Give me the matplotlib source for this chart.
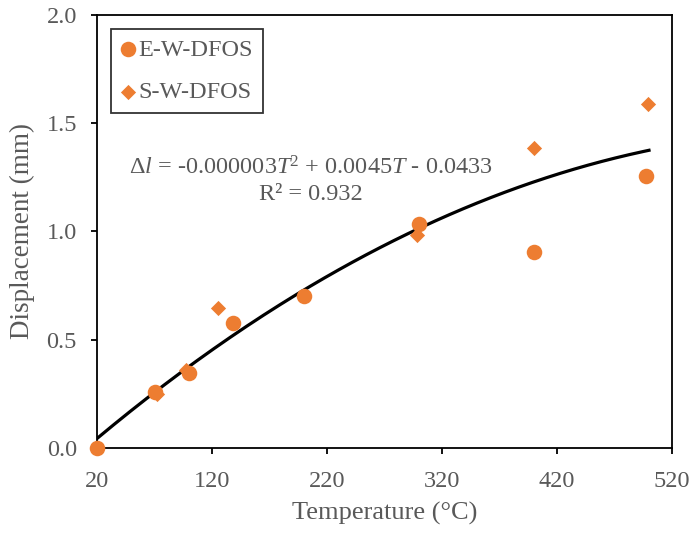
import numpy as np
import matplotlib
matplotlib.use("Agg")
import matplotlib.pyplot as plt

# Données
temp_ew = [20, 70, 100, 138, 200, 300, 400, 497]
disp_ew = [0.0, 0.26, 0.345, 0.577, 0.703, 1.035, 0.905, 1.255]

temp_sw = [20, 72, 97, 125, 298, 400, 499]
disp_sw = [0.0, 0.25, 0.36, 0.648, 0.985, 1.388, 1.588]

x_ticks = [20, 120, 220, 320, 420, 520]
y_ticks = [0.0, 0.5, 1.0, 1.5, 2.0]

ORANGE = "#ED7D31"
GRIS = "#595959"

plt.rcParams["font.family"] = ["Liberation Serif", "DejaVu Serif"]
plt.rcParams["mathtext.fontset"] = "custom"
plt.rcParams["mathtext.it"] = "Liberation Serif:italic"
plt.rcParams["mathtext.rm"] = "Liberation Serif"

fig = plt.figure(figsize=(6.91, 5.36), dpi=100)
ax = fig.add_axes([0.1404, 0.1642, 0.8321, 0.8078])

# Courbe de tendance polynomiale d'ordre 2
tous_t = np.array(temp_ew + temp_sw)
tous_d = np.array(disp_ew + disp_sw)
coef = np.polyfit(tous_t, tous_d, 2)
t_fit = np.linspace(20, 500, 200)
ax.plot(t_fit, np.polyval(coef, t_fit), color="black", lw=2.3, zorder=2)

ax.scatter(temp_sw, disp_sw, marker="D", s=60, color=ORANGE, label="S-W-DFOS",
           zorder=3, linewidths=0, clip_on=False)
ax.scatter(temp_ew, disp_ew, marker="o", s=125, color=ORANGE, label="E-W-DFOS",
           zorder=4, linewidths=0, clip_on=False)

ax.set_xlim(20, 520)
ax.set_ylim(0, 2.0)
ax.set_xticks(x_ticks)
ax.set_yticks(y_ticks)
ax.set_yticklabels([f"{v:.1f}" for v in y_ticks])

for s in ax.spines.values():
    s.set_linewidth(1.3)
    s.set_color("black")
ax.tick_params(direction="out", length=4.5, width=1.3, colors="black",
               labelcolor=GRIS, labelsize=17.5)
ax.tick_params(axis="x", pad=12)
ax.tick_params(axis="y", pad=10)

ax.set_xlabel("Temperature (°C)", fontsize=19, color=GRIS, labelpad=7)
ax.set_ylabel("Displacement (mm)", fontsize=19.5, color=GRIS, labelpad=8)

ax.text(206, 1.293, r"$\Delta$$\it{l}$ = -0.000003$\it{T}$$^2$ + 0.0045$\it{T}$ - 0.0433",
        fontsize=17.5, color=GRIS, ha="center", va="center")
ax.text(206, 1.169, "R² = 0.932", fontsize=17.5, color=GRIS, ha="center", va="center")

handles, labels = ax.get_legend_handles_labels()
leg = ax.legend(handles[::-1], labels[::-1], loc="upper left", bbox_to_anchor=(0.024, 0.968),
                fontsize=17.5, frameon=True, fancybox=False, handletextpad=0.15,
                borderpad=0.4, labelspacing=0.85, handlelength=0.6, borderaxespad=0,
                labelcolor=GRIS)
leg.get_frame().set_edgecolor("black")
leg.get_frame().set_linewidth(1.3)

fig.savefig("out.png", dpi=100)
